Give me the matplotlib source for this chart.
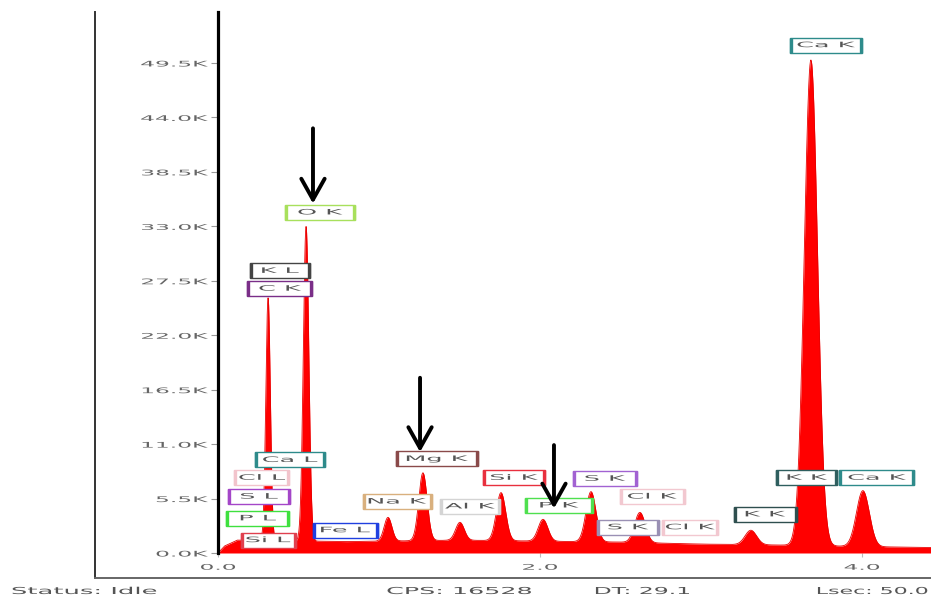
import numpy as np
import matplotlib
matplotlib.use("Agg")
import matplotlib.pyplot as plt
from matplotlib.patheffects import AbstractPathEffect
from matplotlib.transforms import Affine2D, ScaledTranslation
from matplotlib.patches import Rectangle
from matplotlib.lines import Line2D

# ---- spectrum data -------------------------------------------------------
# characteristic peaks: energy (keV), apex counts, line width (sigma, keV)
peak_lines = ["C K", "O K", "Na K", "Mg K", "Al K", "Si K", "P K", "S K",
              "Cl K", "K K", "Ca K", "Ca Kb"]
peak_energy = [0.311, 0.547, 1.056, 1.273, 1.503, 1.758, 2.019, 2.317,
               2.621, 3.310, 3.683, 4.006]
peak_counts = [25800, 33000, 3600, 8100, 3100, 6100, 3400, 6200,
               4100, 2300, 49800, 6300]
peak_sigma = [0.014, 0.017, 0.024, 0.026, 0.027, 0.029, 0.030, 0.031,
              0.033, 0.036, 0.041, 0.040]

# continuum level under the peaks
bg_energy = [0.0, 0.04, 0.12, 0.40, 0.80, 1.50, 2.50, 3.00, 3.50, 4.00, 4.45]
bg_counts = [0, 700, 1300, 1250, 1150, 1300, 1100, 900, 800, 650, 550]

# axis ticks
ytick_values = [0, 5500, 11000, 16500, 22000, 27500, 33000, 38500, 44000, 49500]
ytick_labels = ["0.0K", "5.5K", "11.0K", "16.5K", "22.0K", "27.5K",
                "33.0K", "38.5K", "44.0K", "49.5K"]
xtick_values = [0.0, 2.0, 4.0]
xtick_labels = ["0.0", "2.0", "4.0"]

# peak identification tags: text, energy, counts, box width (px), colour
tags = [
    ("Ca K", 3.776, 51300, 72, "#2e8b8b"),
    ("O K", 0.634, 34400, 70, "#a8e05c"),
    ("K L", 0.385, 28500, 60, "#444444"),
    ("C K", 0.385, 26700, 65, "#7a2e88"),
    ("Ca L", 0.447, 9400, 70, "#2e8b8b"),
    ("Cl L", 0.273, 7600, 55, "#f2c4cc"),
    ("S L", 0.255, 5700, 62, "#a446c8"),
    ("P L", 0.248, 3500, 63, "#3fe03f"),
    ("Si L", 0.311, 1300, 55, "#e0404e"),
    ("Fe L", 0.789, 2300, 65, "#2040e0"),
    ("Na K", 1.112, 5200, 69, "#d9b07e"),
    ("Mg K", 1.360, 9500, 82, "#8a4a4a"),
    ("Al K", 1.565, 4700, 60, "#d4d4d4"),
    ("Si K", 1.839, 7600, 62, "#e8303e"),
    ("P K", 2.118, 4800, 68, "#4fe04f"),
    ("S K", 2.404, 7500, 64, "#a262d2"),
    ("Cl K", 2.696, 5700, 65, "#f2c8d0"),
    ("S K", 2.547, 2600, 62, "#9a90b4"),
    ("Cl K", 2.932, 2600, 56, "#f2c8d0"),
    ("K K", 3.398, 3900, 63, "#2f4f4f"),
    ("K K", 3.658, 7600, 61, "#2f5f5f"),
    ("Ca K", 4.093, 7600, 75, "#2e8b8b"),
]

# arrows: energy, tail counts, tip counts
arrows = [(0.590, 42900, 35300), (1.255, 17700, 10200), (2.087, 10900, 4500)]

# status bar: text, left edge (px), horizontal stretch
status_items = [("Status: Idle", 12, 2.7), ("CPS: 16528", 387, 2.65),
                ("DT: 29.1", 595, 2.45), ("Lsec: 50.0", 817, 2.3)]

DPI = 100
W, H = 931, 599


class Stretch(AbstractPathEffect):
    """Draw text glyphs widened horizontally about a pivot."""

    def __init__(self, sx=2.5, pivot="center"):
        super().__init__()
        self.sx = sx
        self.pivot = pivot

    def draw_path(self, renderer, gc, tpath, affine, rgbFace=None):
        ext = tpath.get_extents()
        if self.pivot == "left":
            px = ext.x0
        elif self.pivot == "right":
            px = ext.x1
        else:
            px = 0.5 * (ext.x0 + ext.x1)
        t = Affine2D().translate(-px, 0).scale(self.sx, 1).translate(px, 0) + affine
        renderer.draw_path(gc, tpath, t, rgbFace)


fig = plt.figure(figsize=(W / DPI, H / DPI), dpi=DPI)
fig.patch.set_facecolor("white")
ax = fig.add_axes([218 / W, 46 / H, 713 / W, 541 / H])

# build the spectrum from continuum + peaks
energy = np.linspace(0.0, 4.45, 3000)
background = np.interp(energy, bg_energy, bg_counts)
spectrum = background.copy()
for e0, c0, s0 in zip(peak_energy, peak_counts, peak_sigma):
    amp = c0 - np.interp(e0, bg_energy, bg_counts)
    spectrum += amp * np.exp(-0.5 * ((energy - e0) / s0) ** 2)

ax.fill_between(energy, 0, spectrum, color="#ff0000", lw=0, zorder=2)
ax.plot(energy, spectrum, color="#e80000", lw=0.6, zorder=2)

ax.set_xlim(0, 4.429)
ax.set_ylim(0, 54650)

for side in ("top", "right", "bottom"):
    ax.spines[side].set_visible(False)
ax.spines["left"].set_linewidth(2.3)
ax.spines["left"].set_color("black")

ax.set_yticks(ytick_values, ytick_labels)
ax.set_xticks(xtick_values, xtick_labels)
ax.tick_params(axis="y", length=5, width=0.8, color="#999999", pad=2.5,
               labelsize=5.6, labelcolor="#666666")
ax.tick_params(axis="x", length=3, width=0.8, color="#bbbbbb", pad=4,
               labelsize=5.6, labelcolor="#666666")
for lab in ax.get_yticklabels():
    lab.set_path_effects([Stretch(3.0, "right")])
for lab in ax.get_xticklabels():
    lab.set_path_effects([Stretch(3.0, "center")])


def tag(text, x, y, w, color, h=15):
    tr = fig.dpi_scale_trans + ScaledTranslation(x, y, ax.transData)
    ax.add_patch(Rectangle((-w / 2 / DPI, -h / 2 / DPI), w / DPI, h / DPI,
                           transform=tr, facecolor="white", edgecolor=color,
                           lw=1.0, zorder=5, clip_on=False))
    for sgn in (-1, 1):
        ax.add_artist(Line2D([sgn * (w / 2 - 1) / DPI] * 2,
                             [-h / 2 / DPI, h / 2 / DPI], transform=tr,
                             color=color, lw=2.4, solid_capstyle="butt",
                             zorder=5))
    ax.text(x, y, text, ha="center", va="center", fontsize=5.4,
            color="#555555", zorder=6, path_effects=[Stretch(3.4, "center")])


for t, x, y, w, c in tags:
    tag(t, x, y, w, c)

for ex, c_tail, c_tip in arrows:
    ax.annotate("", xy=(ex, c_tip), xytext=(ex, c_tail),
                arrowprops=dict(arrowstyle="->,head_length=0.75,head_width=0.42",
                                lw=2.8, color="black", mutation_scale=20,
                                shrinkA=0, shrinkB=0),
                zorder=8)

# outer frame of the spectrum window
fig.add_artist(Line2D([95 / W, 95 / W], [1 - 12 / H, 1 - 578 / H],
                      transform=fig.transFigure, color="#333333", lw=1.4))
fig.add_artist(Line2D([95 / W, 1.0], [1 - 578 / H, 1 - 578 / H],
                      transform=fig.transFigure, color="#666666", lw=1.4))

# status bar
for txt, px, sx in status_items:
    fig.text(px / W, 1 - 591 / H, txt, ha="left", va="center", fontsize=6.9,
             color="#555555", path_effects=[Stretch(sx, "left")])

fig.savefig("out.png", dpi=DPI, facecolor="white")
